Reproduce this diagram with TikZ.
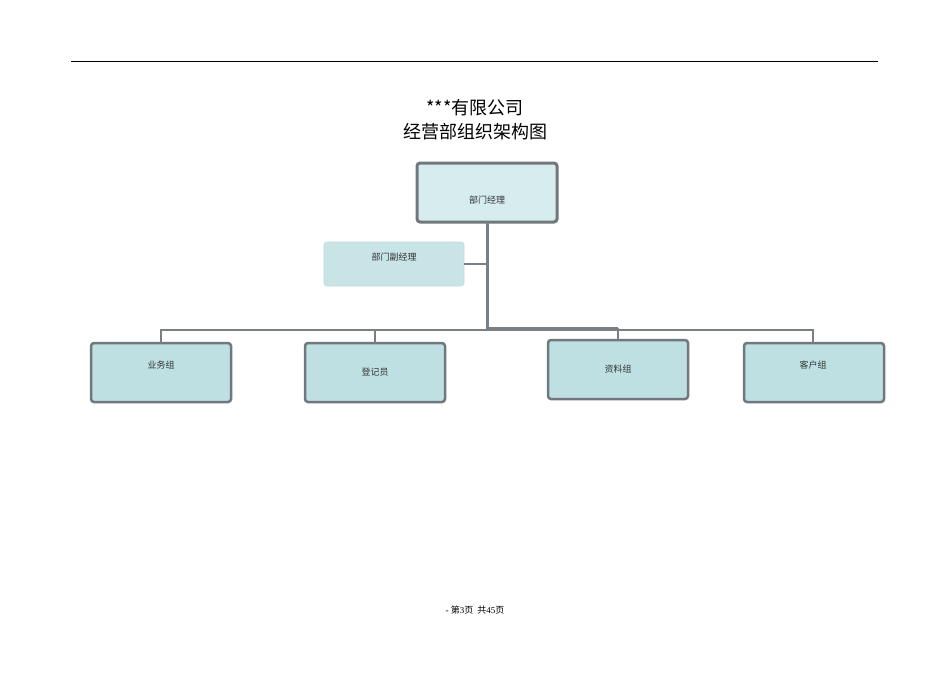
\documentclass[tikz,border=0pt]{standalone}
\usepackage{fontspec}
\setmainfont{Liberation Serif}
\newfontfamily\cjk{Noto Sans CJK SC}
\begin{document}
\begin{tikzpicture}[x=1pt,y=-1pt,
  box/.style={draw=black!70!cyan!40!gray,line width=2.5pt,rounded corners=3pt,fill=bfill,inner sep=0pt},
  lbl/.style={font=\cjk\fontsize{9}{10}\selectfont,text=black!80},
  conn/.style={draw=black!65!cyan!30!gray,line width=2pt}]
\definecolor{bfill}{HTML}{BEE0E3}
\definecolor{tfill}{HTML}{D6ECEF}
\definecolor{dfill}{HTML}{C8E4E6}
\useasboundingbox (0,0) rectangle (950,672);
\draw[line width=1pt] (71,61) -- (878,61);
\node[font=\cjk\fontsize{18}{20}\selectfont] (t1) at (475,108) {***有限公司};
\node[font=\cjk\fontsize{18}{20}\selectfont] (t2) at (475,132) {经营部组织架构图};
\draw[box,fill=tfill,line width=3pt] (417,163) rectangle (557,222);
\node[lbl] (top) at (487,200) {部门经理};
\draw[rounded corners=3pt,draw=gray!60!cyan!40,line width=0.6pt,fill=dfill] (324,242) rectangle (464,286);
\node[lbl] (dep) at (394,257) {部门副经理};
\draw[box] (91,343) rectangle (231,402);
\node[lbl] (b1) at (161,365) {业务组};
\draw[box] (305,343) rectangle (445,402);
\node[lbl] (b2) at (375,372) {登记员};
\draw[box] (548,340) rectangle (688,399);
\node[lbl] (b3) at (618,369) {资料组};
\draw[box] (744,343) rectangle (884,402);
\node[lbl] (b4) at (813,365) {客户组};
\coordinate (j) at (487,330);
\draw[conn,line width=3pt] (487,222) -- (487,330);
\draw[conn] (464,264) -- (487,264);
\draw[conn] (161,343) -- (161,330) -- (813,330) -- (813,343);
\draw[conn,line width=3pt] (487,328) -- (618,328);
\draw[conn] (375,330) -- (375,343);
\draw[conn] (618,328) -- (618,340);
\node[font=\fontsize{9}{10}\selectfont] (f) at (475,610) {- {\cjk 第}3{\cjk 页\ \ 共}45{\cjk 页}};
\end{tikzpicture}
\end{document}
